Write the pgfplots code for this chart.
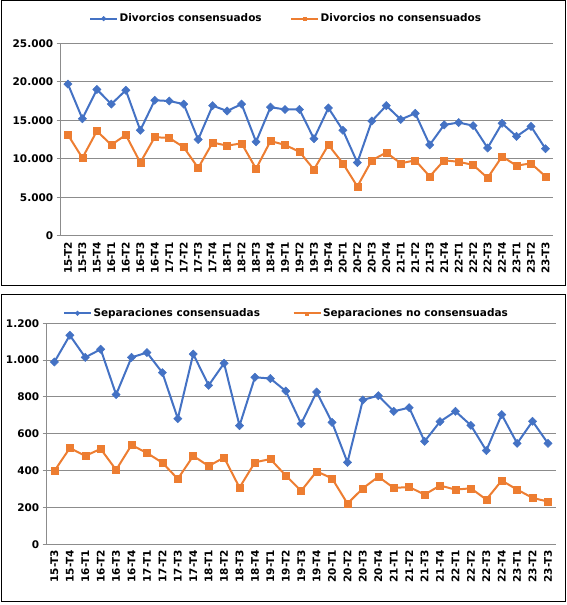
\documentclass[border=0pt]{standalone}
\usepackage{pgfplots}
\pgfplotsset{compat=1.18}
\usepackage{pgfplotstable}
\usepackage{fontspec}
\setmainfont{DejaVu Sans}
\definecolor{cblue}{RGB}{68,114,196}
\definecolor{corange}{RGB}{237,125,49}
\definecolor{cgrid}{RGB}{140,140,140}

\pgfplotstableread{
q dc dn
15-T2 19700 13100
15-T3 15200 10100
15-T4 19000 13600
16-T1 17100 11800
16-T2 18900 13100
16-T3 13700 9500
16-T4 17600 12800
17-T1 17500 12700
17-T2 17100 11500
17-T3 12500 8800
17-T4 16900 12100
18-T1 16200 11700
18-T2 17100 12000
18-T3 12200 8700
18-T4 16700 12300
19-T1 16400 11800
19-T2 16400 10900
19-T3 12600 8600
19-T4 16600 11800
20-T1 13700 9400
20-T2 9500 6400
20-T3 14900 9800
20-T4 16900 10800
21-T1 15100 9400
21-T2 15900 9800
21-T3 11800 7700
21-T4 14400 9800
22-T1 14700 9600
22-T2 14300 9200
22-T3 11400 7500
22-T4 14600 10300
23-T1 12900 9100
23-T2 14200 9400
23-T3 11300 7700
}\divtab

\pgfplotstableread{
q sc sn
15-T3 990 398
15-T4 1135 523
16-T1 1015 480
16-T2 1059 518
16-T3 813 404
16-T4 1015 539
17-T1 1041 496
17-T2 932 443
17-T3 682 355
17-T4 1033 480
18-T1 863 425
18-T2 983 471
18-T3 644 308
18-T4 907 445
19-T1 900 463
19-T2 832 373
19-T3 655 290
19-T4 827 396
20-T1 662 358
20-T2 445 221
20-T3 784 304
20-T4 807 367
21-T1 722 306
21-T2 742 311
21-T3 559 270
21-T4 666 319
22-T1 722 297
22-T2 646 304
22-T3 509 243
22-T4 704 346
23-T1 548 297
23-T2 668 252
23-T3 548 232
}\septab

\pgfplotsset{
  mystyle/.style={
    scale only axis,
    axis x line=bottom, axis y line=left,
    axis line style={cgrid, line width=1bp, -},
    ymajorgrids,
    grid style={cgrid, line width=1bp},
    tick label style={font=\fontsize{10.5bp}{12bp}\selectfont\bfseries, text=black},
    xticklabel style={rotate=90, anchor=east, inner sep=2bp},
    xtick style={draw=none},
    ytick style={cgrid, line width=1bp},
    minor x tick style={cgrid, line width=1bp},
    major tick length=4bp,
    minor tick length=5bp,
    tick align=outside,
    scaled y ticks=false,
    /pgf/number format/.cd, 1000 sep={.}, assume math mode=true,
    /pgfplots/.cd,
    legend columns=2,
    legend cell align=left,
    legend style={draw=none, fill=none, font=\fontsize{10.5bp}{12bp}\selectfont\bfseries,
      nodes={inner sep=1.5bp}},
    legend image code/.code={
      \draw[#1, mark size=1.6bp, mark repeat=2, mark phase=2]
        plot coordinates {(0bp,0bp) (13.5bp,0bp) (27bp,0bp)};},
    clip=false,
  },
  bluel/.style={cblue, line width=2bp, mark=square*, mark size=2.9bp,
    mark options={rotate=45, fill=cblue, draw=cblue, line width=0.5bp}},
  orangel/.style={corange, line width=2bp, mark=square*, mark size=3.5bp,
    mark options={fill=corange, draw=corange, line width=0.5bp}},
}

\begin{document}
\begin{tikzpicture}
\useasboundingbox (0bp,0bp) rectangle (567bp,605bp);
\draw[black, line width=1bp] (1bp,319bp) rectangle (565.5bp,604bp);
\draw[black, line width=1bp] (1bp,3bp) rectangle (565.5bp,310bp);

\begin{axis}[mystyle,
  at={(60.7bp,369.3bp)}, anchor=south west,
  width=492bp, height=192.4bp,
  xmin=-0.5, xmax=33.5, ymin=0, ymax=25000,
  xtick={0,...,33},
  xticklabels from table={\divtab}{q},
  minor xtick={-0.5,0.5,...,33.5},
  ytick={0,5000,...,25000},
  legend style={at={(0.4577,1.128)}, anchor=center,
    /tikz/every even column/.append style={column sep=27bp}},
]
\addplot[bluel] table[x expr=\coordindex, y=dc] {\divtab};
\addlegendentry{Divorcios consensuados}
\addplot[orangel] table[x expr=\coordindex, y=dn] {\divtab};
\addlegendentry{Divorcios no consensuados}
\end{axis}

\begin{axis}[mystyle,
  at={(46.7bp,60.7bp)}, anchor=south west,
  width=509bp, height=221bp,
  xmin=-0.5, xmax=32.5, ymin=0, ymax=1200,
  xtick={0,...,32},
  xticklabels from table={\septab}{q},
  minor xtick={-0.5,0.5,...,32.5},
  ytick={0,200,...,1200},
  legend style={at={(0.4705,1.045)}, anchor=center,
    /tikz/every even column/.append style={column sep=31bp}},
]
\addplot[bluel] table[x expr=\coordindex, y=sc] {\septab};
\addlegendentry{Separaciones consensuadas}
\addplot[orangel] table[x expr=\coordindex, y=sn] {\septab};
\addlegendentry{Separaciones no consensuadas}
\end{axis}
\end{tikzpicture}
\end{document}
